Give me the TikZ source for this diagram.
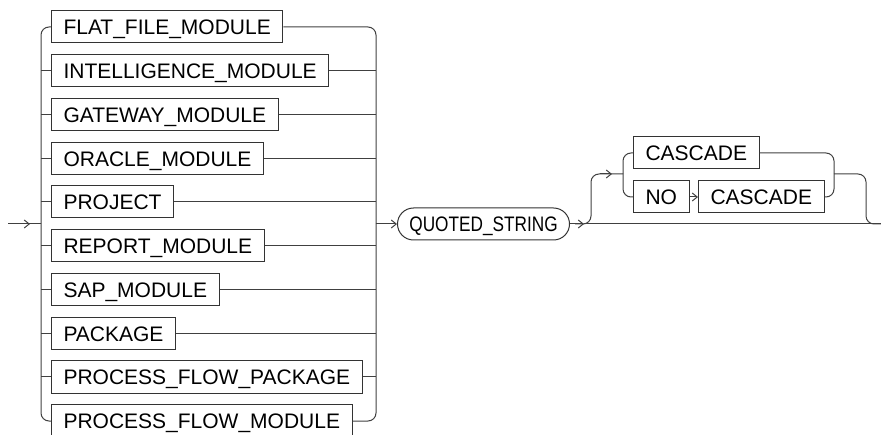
\documentclass[tikz,border=0pt]{standalone}
\usepackage{fontspec}
\setmainfont{Liberation Sans}
\newfontfamily\narrowfont[FakeStretch=0.82]{Liberation Sans}
\usetikzlibrary{arrows.meta}
\begin{document}
\begin{tikzpicture}[x=1bp,y=-1bp,
  kw/.style={draw=black!80, line width=1bp, anchor=west, inner xsep=12bp, inner ysep=8.4bp,
    text height=15.2bp, text depth=0bp, font=\fontsize{21bp}{25bp}\selectfont},
  qsbox/.style={draw=black!80, line width=1bp, anchor=west, rounded corners=16bp,
    minimum width=172bp, inner ysep=8.4bp, text height=15.2bp, text depth=0bp,
    font=\narrowfont\fontsize{21bp}{25bp}\selectfont},
  ln/.style={line width=1bp, draw=black!75},
  rc/.style={ln, rounded corners=8bp},
  barb/.style={ln, -{Straight Barb[length=5bp,width=8bp]}}]
\useasboundingbox (0,0) rectangle (881,435);

% choice nodes
\node[kw] (ff)  at (51,27)  {FLAT\_FILE\_MODULE};
\node[kw] (im)  at (51,71)  {INTELLIGENCE\_MODULE};
\node[kw] (gw)  at (51,115) {GATEWAY\_MODULE};
\node[kw] (om)  at (51,159) {ORACLE\_MODULE};
\node[kw] (pj)  at (51,202) {PROJECT};
\node[kw] (rm)  at (51,246) {REPORT\_MODULE};
\node[kw] (sm)  at (51,290) {SAP\_MODULE};
\node[kw] (pk)  at (51,334) {PACKAGE};
\node[kw] (pfp) at (51,377) {PROCESS\_FLOW\_PACKAGE};
\node[kw] (pfm) at (51,421) {PROCESS\_FLOW\_MODULE};

\coordinate (start) at (8,224);
\coordinate (startTip) at (30,224);
\coordinate (Lt) at (41,224);
\coordinate (Rt) at (376,224);

% entry
\draw[ln] (start) -- (Lt);
\draw[barb] (start) -- (startTip);

% left trunk
\draw[rc] (ff.west) -| (Lt);
\draw[rc] (pfm.west) -| (Lt);
\foreach \n in {im,gw,om,pj,rm,sm,pk,pfp}
  \draw[ln] (\n.west) -- (\n.west -| Lt);

% right trunk
\draw[rc] (ff.east) -| (Rt);
\draw[rc] (pfm.east) -| (Rt);
\foreach \n in {im,gw,om,pj,rm,sm,pk,pfp}
  \draw[ln] (\n.east) -- (\n.east -| Rt);

% quoted string
\node[qsbox] (qs) at (397,224) {QUOTED\_STRING};
\draw[barb] (Rt) -- (qs.west);

\coordinate (qsTip) at (584,224);
\coordinate (fin) at (881,224);
\draw[barb] (qs.east) -- (qsTip);
\draw[ln] (qsTip) -- (fin);

% optional group
\node[kw] (c1) at (633,153) {CASCADE};
\node[kw] (no) at (633,197) {NO};
\node[kw] (c2) at (698,197) {CASCADE};
\draw[barb] (no.east) -- (c2.west);

\coordinate (gL) at (623,174);
\coordinate (gR) at (834,174);
\coordinate (byA) at (575,224);
\coordinate (byB) at (591,224);
\coordinate (byC) at (591,174);
\coordinate (byTail) at (600,174);
\coordinate (byTip) at (612,174);
\coordinate (exA) at (866,174);
\coordinate (exB) at (866,224);

\draw[rc] (byA) -- (byB) -- (byC) -- (gL);
\draw[barb] (byTail) -- (byTip);
\draw[rc] (c1.west) -| (gL);
\draw[rc] (no.west) -| (gL);
\draw[rc] (c1.east) -| (gR);
\draw[rc] (c2.east) -| (gR);
\draw[rc] (gR) -- (exA) -- (exB) -- (fin);
\end{tikzpicture}
\end{document}
